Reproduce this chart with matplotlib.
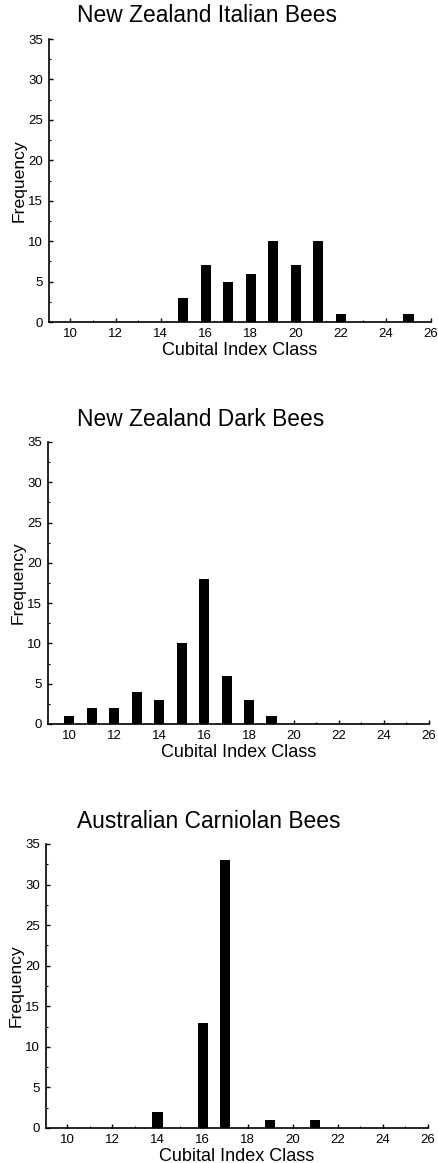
import matplotlib.pyplot as plt
from matplotlib.ticker import MultipleLocator

plt.rcParams['font.family'] = ['Liberation Sans', 'DejaVu Sans']

# cubital index class -> frequency, one panel per bee population
italian_classes = [15, 16, 17, 18, 19, 20, 21, 22, 25]
italian_freq = [3, 7, 5, 6, 10, 7, 10, 1, 1]

dark_classes = [10, 11, 12, 13, 14, 15, 16, 17, 18, 19]
dark_freq = [1, 2, 2, 4, 3, 10, 18, 6, 3, 1]

carniolan_classes = [14, 16, 17, 19, 21]
carniolan_freq = [2, 13, 33, 1, 1]

titles = ['New Zealand Italian Bees', 'New Zealand Dark Bees', 'Australian Carniolan Bees']
x_ticks = [10, 12, 14, 16, 18, 20, 22, 24, 26]
y_ticks = [0, 5, 10, 15, 20, 25, 30, 35]

panels = [(italian_classes, italian_freq), (dark_classes, dark_freq), (carniolan_classes, carniolan_freq)]
# axes boxes [left, bottom, width, height] in figure fractions
boxes = [[0.112, 0.7231, 0.872, 0.2433],
         [0.1096, 0.3775, 0.8694, 0.2425],
         [0.105, 0.0301, 0.872, 0.2442]]
title_y = [1 - 16 / 1163, 1 - 420 / 1163, 1 - 822 / 1163]

fig = plt.figure(figsize=(4.38, 11.63), dpi=100)

for (cls, freq), box, title, ty in zip(panels, boxes, titles, title_y):
    ax = fig.add_axes(box)
    ax.bar(cls, freq, width=0.45, color='black')
    ax.set_xlim(9.05, 26)
    ax.set_ylim(0, 35)
    ax.set_xticks(x_ticks)
    ax.set_yticks(y_ticks)
    ax.xaxis.set_minor_locator(MultipleLocator(1))
    ax.yaxis.set_minor_locator(MultipleLocator(2.5))
    ax.tick_params(which='major', direction='in', length=3, width=1, labelsize=9.5, pad=4.5)
    ax.tick_params(which='minor', direction='in', length=1.5, width=0.8)
    for side in ['top', 'right']:
        ax.spines[side].set_visible(False)
    for side in ['left', 'bottom']:
        ax.spines[side].set_linewidth(1.2)
    ax.set_xlabel('Cubital Index Class', fontsize=13, labelpad=1.5)
    ax.set_ylabel('Frequency', fontsize=12.6, labelpad=1)
    fig.text(77 / 438, ty, title, fontsize=16.4, ha='left', va='center')

plt.savefig('out.png', dpi=100)
